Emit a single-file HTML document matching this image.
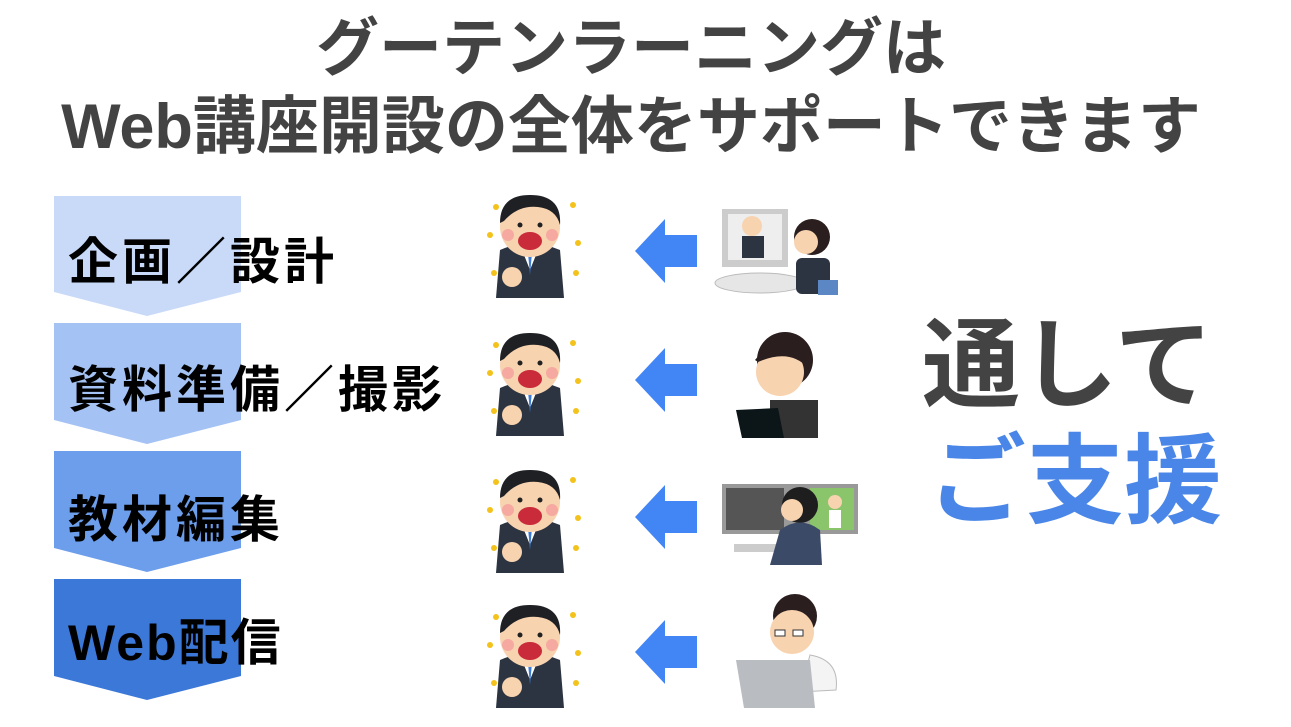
<!DOCTYPE html>
<html><head><meta charset="utf-8"><style>
body{margin:0;width:1291px;height:727px;background:#fff;overflow:hidden;position:relative;font-family:"Liberation Sans","Noto Sans CJK JP",sans-serif}
.t{position:absolute;font-weight:bold;white-space:nowrap}
.l{font-size:50px;line-height:56px;color:#000;letter-spacing:4px}
</style></head><body>
<svg width="1291" height="727" style="position:absolute;left:0;top:0">
<defs>
<g id="bm">
<path d="M18 103 L22 55 Q52 42 82 55 L86 103Z" fill="#2b3440"/>
<path d="M44 55 L52 75 L60 55Z" fill="#fff"/><path d="M50 58 L52 80 L54 58Z" fill="#3d7bd0"/>
<ellipse cx="52" cy="32" rx="30" ry="30" fill="#f8d3b0"/>
<path d="M22 28 Q22 0 52 0 Q84 0 82 30 Q78 14 60 12 Q40 10 26 26Z" fill="#1f2024"/>
<ellipse cx="52" cy="46" rx="12" ry="9" fill="#c92b3a"/>
<circle cx="30" cy="40" r="6" fill="#f5a9a0"/><circle cx="74" cy="40" r="6" fill="#f5a9a0"/>
<circle cx="42" cy="30" r="2.5" fill="#222"/><circle cx="62" cy="30" r="2.5" fill="#222"/>
<circle cx="34" cy="82" r="10" fill="#f8d3b0"/>
<g fill="#f3c21b"><circle cx="18" cy="12" r="3"/><circle cx="12" cy="40" r="3"/><circle cx="16" cy="78" r="3"/><circle cx="95" cy="10" r="3"/><circle cx="100" cy="48" r="3"/><circle cx="98" cy="78" r="3"/></g>
</g>
<path id="ar" d="M0 0 L30 -32 L30 -16 L62 -16 L62 16 L30 16 L30 32Z" fill="#4285f4"/>
</defs>
<polygon points="54,196 241,196 241,292 147,316 54,292" fill="#c9daf8"/>
<polygon points="54,323 241,323 241,420 147,444 54,420" fill="#a4c2f4"/>
<polygon points="54,451 241,451 241,548 147,572 54,548" fill="#6d9eeb"/>
<polygon points="54,579 241,579 241,676 147,700 54,676" fill="#3c78d8"/>
<use href="#bm" x="478" y="195"/><use href="#bm" x="478" y="333"/><use href="#bm" x="478" y="470"/><use href="#bm" x="478" y="605"/>
<use href="#ar" x="635" y="251"/><use href="#ar" x="635" y="380"/><use href="#ar" x="635" y="517"/><use href="#ar" x="635" y="652"/>
<rect x="722" y="209" width="66" height="58" fill="#ccc"/><rect x="728" y="214" width="54" height="46" fill="#eee"/>
<circle cx="752" cy="226" r="10" fill="#f8d3b0"/><rect x="742" y="236" width="22" height="22" fill="#2b3440"/>
<ellipse cx="760" cy="283" rx="45" ry="10" fill="#e6e6e6" stroke="#bbb"/>
<circle cx="812" cy="237" r="18" fill="#2a1e1e"/><circle cx="806" cy="242" r="12" fill="#f8d3b0"/>
<rect x="796" y="258" width="34" height="36" rx="6" fill="#2b3440"/><rect x="818" y="280" width="20" height="15" fill="#5b87c5"/>
<circle cx="785" cy="360" r="28" fill="#2a1e1e"/><ellipse cx="780" cy="372" rx="24" ry="24" fill="#f8d3b0"/>
<path d="M755 360 Q770 340 800 345 L808 368 Q790 348 758 362Z" fill="#2a1e1e"/>
<rect x="770" y="400" width="48" height="38" fill="#333"/>
<polygon points="736,410 778,408 784,438 742,438" fill="#0c1618"/>
<rect x="722" y="484" width="136" height="50" fill="#999"/><rect x="726" y="488" width="58" height="42" fill="#555"/><rect x="810" y="488" width="44" height="42" fill="#8bc56b"/>
<circle cx="835" cy="502" r="7" fill="#f8d3b0"/><rect x="829" y="510" width="12" height="18" fill="#fff"/>
<rect x="734" y="544" width="50" height="8" fill="#ccc"/>
<circle cx="800" cy="505" r="18" fill="#1e1e1e"/><circle cx="792" cy="510" r="11" fill="#f8d3b0"/>
<path d="M780 530 Q800 515 820 530 L822 565 L770 565Z" fill="#3b4a66"/>
<circle cx="795" cy="616" r="22" fill="#2a1e1e"/><ellipse cx="792" cy="632" rx="22" ry="22" fill="#f8d3b0"/>
<path d="M810 655 Q840 660 836 690 L800 692Z" fill="#f4f4f4" stroke="#bbb"/>
<rect x="775" y="630" width="10" height="6" fill="#fff" stroke="#333"/><rect x="793" y="630" width="10" height="6" fill="#fff" stroke="#333"/>
<polygon points="736,660 810,660 815,708 744,708" fill="#b9bcc0"/>
</svg>
<div class="t" style="left:0;width:1262px;text-align:center;top:15px;font-size:63px;color:#434343;line-height:68px">グーテンラーニングは</div>
<div class="t" style="left:0;width:1262px;text-align:center;top:93px;font-size:63px;color:#434343;line-height:68px">Web講座開設の全体をサポートできます</div>
<div class="t l" style="left:68px;top:234px">企画／設計</div>
<div class="t l" style="left:68px;top:362px">資料準備／撮影</div>
<div class="t l" style="left:68px;top:492px">教材編集</div>
<div class="t l" style="left:68px;top:615px;letter-spacing:2px">Web配信</div>
<div class="t" style="left:922px;top:310px;font-size:98px;line-height:110px;color:#434343">通して</div>
<div class="t" style="left:928px;top:426px;font-size:98px;line-height:110px;color:#4a86e8">ご支援</div>
</body></html>
